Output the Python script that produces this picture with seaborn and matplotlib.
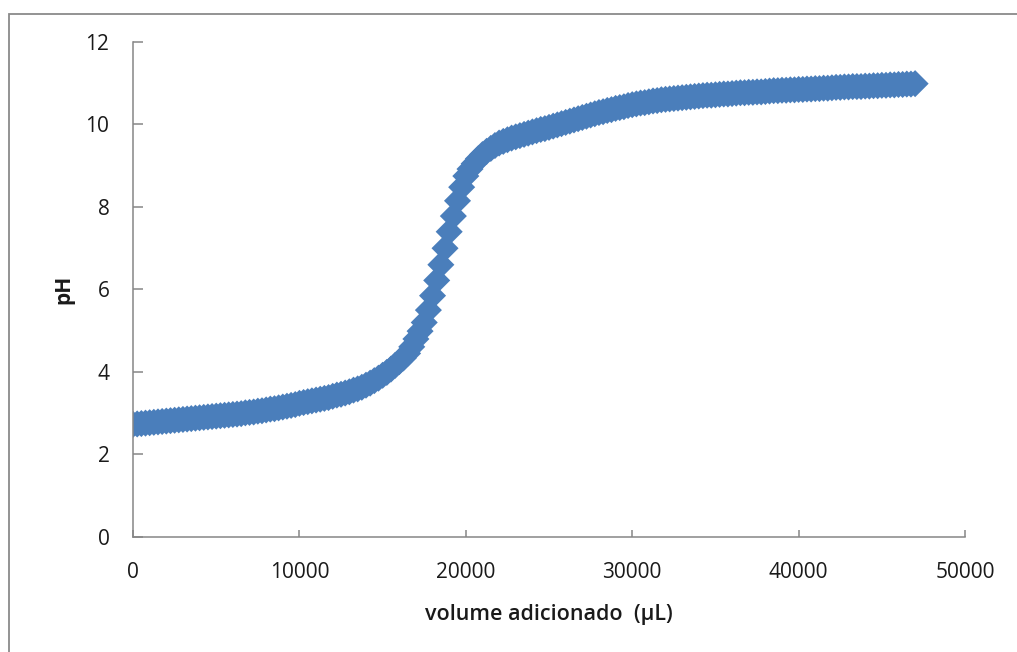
import matplotlib
matplotlib.use("Agg")
import matplotlib.pyplot as plt
import seaborn as sns
import pandas as pd
from matplotlib.patches import Rectangle

volume_uL = [
    0, 250, 500, 750, 1000, 1250, 1500, 1750, 2000, 2250, 2500, 2750,
    3000, 3250, 3500, 3750, 4000, 4250, 4500, 4750, 5000, 5250, 5500, 5750,
    6000, 6250, 6500, 6750, 7000, 7250, 7500, 7750, 8000, 8250, 8500, 8750,
    9000, 9250, 9500, 9750, 10000, 10250, 10500, 10750, 11000, 11250, 11500, 11750,
    12000, 12250, 12500, 12750, 13000, 13250, 13500, 13750, 14000, 14250, 14500, 14750,
    15000, 15250, 15500, 15750, 16000, 16250, 16500, 16750, 17000, 17250, 17500, 17750,
    18000, 18250, 18500, 18750, 19000, 19250, 19500, 19750, 20000, 20250, 20500, 20750,
    21000, 21250, 21500, 21750, 22000, 22250, 22500, 22750, 23000, 23250, 23500, 23750,
    24000, 24250, 24500, 24750, 25000, 25250, 25500, 25750, 26000, 26250, 26500, 26750,
    27000, 27250, 27500, 27750, 28000, 28250, 28500, 28750, 29000, 29250, 29500, 29750,
    30000, 30250, 30500, 30750, 31000, 31250, 31500, 31750, 32000, 32250, 32500, 32750,
    33000, 33250, 33500, 33750, 34000, 34250, 34500, 34750, 35000, 35250, 35500, 35750,
    36000, 36250, 36500, 36750, 37000, 37250, 37500, 37750, 38000, 38250, 38500, 38750,
    39000, 39250, 39500, 39750, 40000, 40250, 40500, 40750, 41000, 41250, 41500, 41750,
    42000, 42250, 42500, 42750, 43000, 43250, 43500, 43750, 44000, 44250, 44500, 44750,
    45000, 45250, 45500, 45750, 46000, 46250, 46500, 46750, 47000,
]

ph_values = [
    2.73, 2.74, 2.75, 2.76, 2.77, 2.78, 2.79, 2.80, 2.81, 2.82, 2.83, 2.84,
    2.85, 2.86, 2.87, 2.88, 2.89, 2.90, 2.91, 2.92, 2.93, 2.94, 2.95, 2.96,
    2.97, 2.98, 2.99, 3.01, 3.02, 3.03, 3.05, 3.06, 3.08, 3.10, 3.11, 3.13,
    3.15, 3.17, 3.19, 3.21, 3.24, 3.26, 3.28, 3.30, 3.32, 3.34, 3.36, 3.38,
    3.41, 3.44, 3.46, 3.49, 3.52, 3.56, 3.59, 3.63, 3.68, 3.73, 3.79, 3.85,
    3.92, 3.99, 4.07, 4.16, 4.25, 4.34, 4.45, 4.61, 4.80, 4.99, 5.20, 5.50,
    5.85, 6.22, 6.60, 7.00, 7.40, 7.78, 8.15, 8.48, 8.75, 8.92, 9.05, 9.17,
    9.27, 9.35, 9.42, 9.49, 9.55, 9.59, 9.63, 9.67, 9.70, 9.73, 9.76, 9.79,
    9.82, 9.85, 9.88, 9.90, 9.93, 9.96, 9.99, 10.02, 10.05, 10.08, 10.11, 10.14,
    10.17, 10.20, 10.23, 10.26, 10.29, 10.31, 10.34, 10.36, 10.39, 10.41, 10.43, 10.46,
    10.48, 10.50, 10.52, 10.53, 10.55, 10.57, 10.58, 10.60, 10.61, 10.62, 10.63, 10.64,
    10.65, 10.66, 10.67, 10.68, 10.69, 10.70, 10.71, 10.71, 10.72, 10.73, 10.74, 10.74,
    10.75, 10.76, 10.77, 10.77, 10.78, 10.78, 10.79, 10.79, 10.80, 10.81, 10.82, 10.82,
    10.83, 10.83, 10.84, 10.84, 10.85, 10.85, 10.86, 10.86, 10.87, 10.87, 10.88, 10.88,
    10.89, 10.90, 10.90, 10.91, 10.91, 10.92, 10.92, 10.92, 10.93, 10.93, 10.94, 10.94,
    10.95, 10.95, 10.96, 10.96, 10.97, 10.97, 10.98, 10.98, 10.99,
]

x_ticks = [0, 10000, 20000, 30000, 40000, 50000]
y_ticks = [0, 2, 4, 6, 8, 10, 12]
x_label = "volume adicionado  (µL)"
y_label = "pH"

sns.set_theme(style="white")
plt.rcParams["font.family"] = ["Open Sans", "DejaVu Sans"]

df = pd.DataFrame({"volume": volume_uL, "pH": ph_values})

fig = plt.figure(figsize=(10.17, 6.52), dpi=100)
fig.patch.set_facecolor("white")
ax = fig.add_axes([0.1308, 0.1764, 0.8181, 0.7592])

sns.scatterplot(data=df, x="volume", y="pH", marker="D", s=190,
                color="#4A7EBB", edgecolor="none", linewidth=0, ax=ax)

ax.set_xlim(0, 50000)
ax.set_ylim(0, 12)
ax.set_xticks(x_ticks)
ax.set_yticks(y_ticks)
ax.set_xticklabels([str(t) for t in x_ticks])
ax.set_yticklabels([str(t) for t in y_ticks])

for side in ["top", "right"]:
    ax.spines[side].set_visible(False)
for side in ["left", "bottom"]:
    ax.spines[side].set_color("#868686")
    ax.spines[side].set_linewidth(1.1)

ax.tick_params(axis="both", direction="in", width=1.1, left=True, bottom=True,
               color="#868686", labelsize=15, labelcolor="#1a1a1a")
ax.tick_params(axis="x", length=5, pad=18)
ax.tick_params(axis="y", length=7.5, pad=17)

ax.set_xlabel(x_label, fontsize=15.5, fontweight="semibold", color="#1a1a1a", labelpad=15)
ax.set_ylabel(y_label, fontsize=15, fontweight="bold", color="#1a1a1a", labelpad=8)

border = Rectangle((9 / 1017, -0.2), 1.2, 1 - 14 / 652 + 0.2,
                   transform=fig.transFigure, fill=False,
                   edgecolor="#8a8a8a", linewidth=1.3, clip_on=False)
fig.patches.append(border)

fig.savefig("out.png", dpi=100, facecolor="white")
